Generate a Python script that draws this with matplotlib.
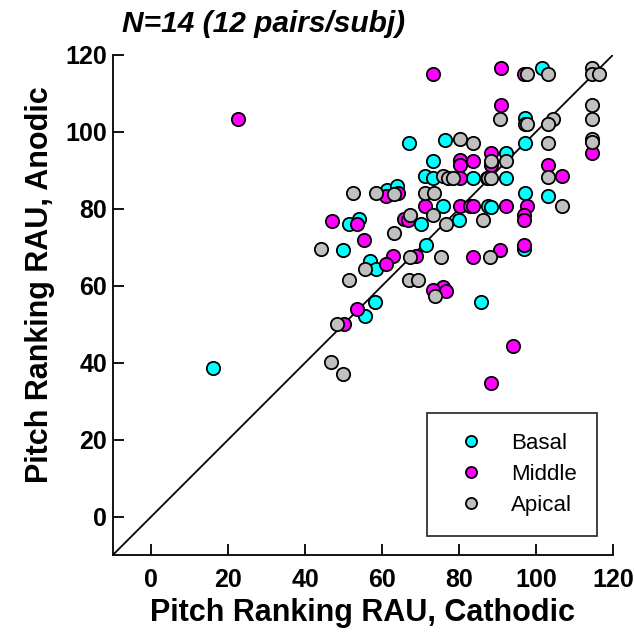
import matplotlib
matplotlib.use("Agg")
import matplotlib.pyplot as plt
from matplotlib.lines import Line2D

plt.rcParams['font.family'] = ['Liberation Sans', 'DejaVu Sans']

# Data: (Cathodic RAU, Anodic RAU) per electrode region
basal_x = [16.1, 67.0, 76.4, 73.2, 71.2, 73.2, 61.2, 63.9, 75.8, 101.6, 97.0, 97.0, 92.1,
           83.6, 92.1, 97.0, 103.0, 87.6, 88.2, 80.0, 96.9, 85.8, 70.0, 51.4, 54.0, 49.8,
           71.3, 56.9, 58.3, 58.2, 55.4]
basal_y = [38.7, 97.2, 97.9, 92.4, 88.4, 88.1, 84.9, 86.0, 80.6, 116.5, 103.6, 97.2, 94.6,
           88.1, 88.1, 84.1, 83.4, 80.8, 80.4, 77.0, 69.5, 55.8, 76.1, 76.1, 77.3, 69.2,
           70.5, 66.3, 64.3, 55.8, 52.0]

middle_x = [22.6, 73.2, 90.9, 96.8, 90.9, 114.4, 88.2, 88.2, 80.2, 80.3, 83.6, 103.0, 106.6,
            80.2, 87.3, 61.1, 64.1, 71.2, 80.2, 82.8, 83.6, 92.1, 97.7, 96.9, 96.9, 83.6,
            90.6, 96.9, 75.8, 76.5, 94.0, 88.2, 65.6, 66.7, 46.9, 53.5, 55.3, 68.9, 62.8,
            61.1, 73.2, 53.5, 50.0]
middle_y = [103.4, 114.9, 116.5, 115.1, 107.0, 94.5, 94.6, 91.4, 92.7, 91.4, 92.3, 91.4, 88.4,
            88.1, 88.1, 83.2, 84.1, 80.8, 80.8, 80.8, 80.8, 80.8, 80.8, 78.4, 77.0, 67.5,
            69.2, 70.6, 59.7, 58.5, 44.4, 34.7, 77.3, 77.0, 76.9, 76.1, 71.8, 67.6, 67.8,
            65.6, 58.8, 54.0, 50.0]

apical_x = [75.8, 77.1, 78.4, 52.4, 58.3, 63.1, 71.2, 73.4, 97.7, 103.0, 114.6, 114.6, 116.3,
            90.7, 97.0, 97.7, 104.5, 103.0, 114.6, 114.6, 114.6, 114.6, 80.2, 83.6, 103.0,
            88.2, 92.1, 103.0, 87.5, 88.2, 106.6, 76.5, 86.2, 75.4, 88.0, 73.2, 67.2, 63.1,
            44.0, 67.2, 55.4, 51.5, 67.0, 69.3, 73.7, 48.2, 46.8, 49.8]
apical_y = [88.4, 88.0, 88.0, 84.1, 84.1, 83.9, 84.1, 84.1, 114.9, 114.9, 116.5, 114.9, 114.9,
            103.3, 102.1, 101.9, 103.3, 102.1, 107.0, 103.3, 98.1, 97.4, 98.1, 97.2, 97.2,
            92.3, 92.3, 88.2, 88.1, 88.1, 80.6, 76.1, 77.0, 67.5, 67.5, 78.4, 78.4, 73.7,
            69.6, 67.5, 64.3, 61.4, 61.4, 61.4, 57.2, 50.0, 40.1, 37.1]

series_names = ['Basal', 'Middle', 'Apical']
series_colors = ['#00FFFF', '#FF00FF', '#C0C0C0']
ticks = [0, 20, 40, 60, 80, 100, 120]

fig = plt.figure(figsize=(6.34, 6.34), dpi=100)
ax = fig.add_axes([0.178, 0.1246, 0.789, 0.789])

ax.plot([-10, 120], [-10, 120], color='black', lw=1.3, zorder=1)

handles = []
for xs, ys, name, col in zip([basal_x, middle_x, apical_x], [basal_y, middle_y, apical_y],
                             series_names, series_colors):
    ax.scatter(xs, ys, s=92, c=col, edgecolors='black', linewidths=1.3, zorder=3)
    handles.append(Line2D([], [], ls='none', marker='o', markersize=8,
                          markerfacecolor=col, markeredgecolor='black',
                          markeredgewidth=1.3, label=name))

ax.set_xlim(-10, 120)
ax.set_ylim(-10, 120)
ax.set_xticks(ticks)
ax.set_yticks(ticks)
ax.spines['top'].set_visible(False)
ax.spines['right'].set_visible(False)
for s in ['left', 'bottom']:
    ax.spines[s].set_linewidth(1.3)
ax.tick_params(direction='in', length=8, width=1.3, labelsize=18)
ax.tick_params(axis='y', pad=4)
ax.tick_params(axis='x', pad=9)
for lab in ax.get_xticklabels() + ax.get_yticklabels():
    lab.set_fontweight('bold')

ax.set_xlabel('Pitch Ranking RAU, Cathodic', fontsize=22, fontweight='bold', labelpad=5)
ax.set_ylabel('Pitch Ranking RAU, Anodic', fontsize=22, fontweight='bold')
ax.yaxis.set_label_coords(-0.116, 0.54)
fig.text(0.193, 0.962, 'N=14 (12 pairs/subj)', fontsize=21.5, fontweight='bold',
         fontstyle='italic', va='center', ha='left')

leg = ax.legend(handles=handles, loc='lower right', bbox_to_anchor=(0.968, 0.038),
                fontsize=16, frameon=True, fancybox=False, borderpad=0.9,
                handlelength=2.2, handletextpad=0.7, labelspacing=0.45, borderaxespad=0)
leg.get_frame().set_edgecolor('black')
leg.get_frame().set_linewidth(1.3)

fig.savefig('out.png', dpi=100)
